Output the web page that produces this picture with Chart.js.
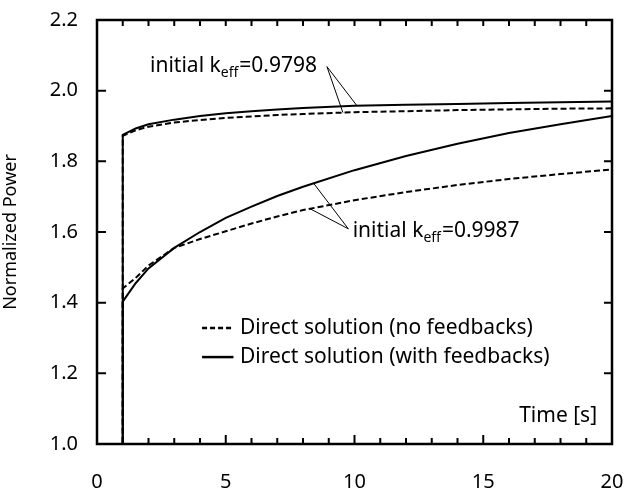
<!DOCTYPE html>
<html>
<head>
<meta charset="utf-8">
<script src="https://cdn.jsdelivr.net/npm/chart.js@4"></script>
<style>
html, body { margin: 0; padding: 0; background: #fff; }
#wrap { width: 624px; height: 491px; }
</style>
</head>
<body>
<div id="wrap"><canvas id="powerChart"></canvas></div>
<script>
// time axis [s] and normalized power
const timeS = [0, 1, 1, 1.5, 2, 3, 4, 5, 6, 7, 8, 10, 12, 14, 16, 18, 20];
const k9798Feedback   = [1.0, 1.0, 1.875, 1.893, 1.905, 1.918, 1.928, 1.936, 1.942, 1.947, 1.951, 1.957, 1.960, 1.962, 1.965, 1.967, 1.969];
const k9798NoFeedback = [1.0, 1.0, 1.872, 1.888, 1.898, 1.910, 1.917, 1.923, 1.927, 1.931, 1.934, 1.939, 1.942, 1.945, 1.947, 1.949, 1.950];
const k9987Feedback   = [1.0, 1.0, 1.403, 1.455, 1.497, 1.555, 1.600, 1.640, 1.672, 1.702, 1.728, 1.775, 1.815, 1.850, 1.880, 1.905, 1.928];
const k9987NoFeedback = [1.0, 1.0, 1.440, 1.470, 1.505, 1.555, 1.580, 1.602, 1.624, 1.644, 1.662, 1.690, 1.713, 1.733, 1.750, 1.764, 1.777];
const yTicks = [1.0, 1.2, 1.4, 1.6, 1.8, 2.0, 2.2];
const xTicks = [0, 5, 10, 15, 20];

const FONT = '"Noto Sans", sans-serif';

function toXY(ys) {
    return timeS.map((t, i) => ({ x: t, y: ys[i] }));
}

function lineSet(label, ys, dashed) {
    return {
        label: label,
        data: toXY(ys),
        borderColor: '#000',
        borderWidth: 2,
        borderDash: dashed ? [6, 3] : [],
        pointRadius: 0,
        tension: 0,
        fill: false
    };
}

function drawKeff(ctx, x, y, value) {
    ctx.fillStyle = '#000';
    ctx.textAlign = 'left';
    ctx.textBaseline = 'alphabetic';
    ctx.font = '21px ' + FONT;
    ctx.fillText('initial k', x, y);
    let w = ctx.measureText('initial k').width;
    ctx.font = '14px ' + FONT;
    ctx.fillText('eff', x + w, y + 5);
    w += ctx.measureText('eff').width + 1;
    ctx.font = '21px ' + FONT;
    ctx.fillText('=' + value, x + w, y);
}

const decorations = {
    id: 'decorations',
    afterDatasetsDraw(chart) {
        const ctx = chart.ctx;
        const xs = chart.scales.x, ys = chart.scales.y;
        const px = v => xs.getPixelForValue(v);
        const py = v => ys.getPixelForValue(v);
        ctx.save();

        // annotation leaders
        ctx.strokeStyle = '#000';
        ctx.lineWidth = 1;
        ctx.setLineDash([]);
        const leaders = [
            [[8.93, 2.068], [10.10, 1.957], [9.55, 1.938]],
            [[9.76, 1.609], [8.40, 1.739], [8.27, 1.666]]
        ];
        leaders.forEach(l => {
            l.slice(1).forEach(p => {
                ctx.beginPath();
                ctx.moveTo(px(l[0][0]), py(l[0][1]));
                ctx.lineTo(px(p[0]), py(p[1]));
                ctx.stroke();
            });
        });
        drawKeff(ctx, px(2.06), py(2.053), '0.9798');
        drawKeff(ctx, px(9.93), py(1.586), '0.9987');

        // legend
        const rows = [
            { y: 1.328, dash: [5, 3], text: 'Direct solution (no feedbacks)' },
            { y: 1.246, dash: [], text: 'Direct solution (with feedbacks)' }
        ];
        rows.forEach(r => {
            ctx.lineWidth = 2.5;
            ctx.setLineDash(r.dash);
            ctx.beginPath();
            ctx.moveTo(px(4.08), py(r.y));
            ctx.lineTo(px(5.30), py(r.y));
            ctx.stroke();
            ctx.setLineDash([]);
            ctx.font = '21px ' + FONT;
            ctx.textAlign = 'left';
            ctx.textBaseline = 'middle';
            ctx.fillText(r.text, px(5.55), py(r.y));
        });

        // axis name inside the plot
        ctx.textAlign = 'right';
        ctx.fillText('Time [s]', px(19.42), py(1.079));
        ctx.restore();
    },
    afterDraw(chart) {
        const ctx = chart.ctx;
        const a = chart.chartArea;
        const xs = chart.scales.x, ys = chart.scales.y;
        ctx.save();
        ctx.strokeStyle = '#000';
        ctx.setLineDash([]);
        ctx.lineWidth = 2;
        ctx.beginPath();
        for (let t = 1; t < 20; t++) {
            const x = xs.getPixelForValue(t);
            const major = t % 5 === 0;
            ctx.moveTo(x, a.bottom);
            ctx.lineTo(x, a.bottom - (major ? 9 : 6));
            ctx.moveTo(x, a.top);
            ctx.lineTo(x, a.top + 6);
        }
        yTicks.slice(1, -1).forEach(v => {
            const y = ys.getPixelForValue(v);
            ctx.moveTo(a.left, y);
            ctx.lineTo(a.left + 9, y);
            ctx.moveTo(a.right, y);
            ctx.lineTo(a.right - 8, y);
        });
        ctx.stroke();
        ctx.lineWidth = 2.5;
        ctx.strokeRect(a.left, a.top, a.right - a.left, a.bottom - a.top);
        ctx.restore();
    }
};

new Chart(document.getElementById('powerChart').getContext('2d'), {
    type: 'line',
    data: {
        datasets: [
            lineSet('0.9798 no feedbacks', k9798NoFeedback, true),
            lineSet('0.9798 with feedbacks', k9798Feedback, false),
            lineSet('0.9987 no feedbacks', k9987NoFeedback, true),
            lineSet('0.9987 with feedbacks', k9987Feedback, false)
        ]
    },
    options: {
        responsive: true,
        maintainAspectRatio: false,
        animation: false,
        layout: { padding: { top: 20, right: 12, left: 0, bottom: 0 } },
        plugins: {
            legend: { display: false },
            tooltip: { enabled: false }
        },
        scales: {
            x: {
                type: 'linear',
                min: 0,
                max: 20,
                afterBuildTicks: s => { s.ticks = xTicks.map(v => ({ value: v })); },
                afterFit: s => { s.height = 47; s.paddingLeft = 0; s.paddingRight = 0; },
                grid: { display: false, drawTicks: false },
                border: { display: false },
                ticks: {
                    color: '#000',
                    padding: 26,
                    maxRotation: 0,
                    font: { family: FONT, size: 20 }
                }
            },
            y: {
                min: 1.0,
                max: 2.2,
                afterBuildTicks: s => { s.ticks = yTicks.map(v => ({ value: v })); },
                afterFit: s => { s.width = 97; s.paddingTop = 0; s.paddingBottom = 0; },
                grid: { display: false, drawTicks: false },
                border: { display: false },
                title: {
                    display: true,
                    text: 'Normalized Power',
                    color: '#000',
                    font: { family: FONT, size: 18 },
                    padding: { top: 0, bottom: 6 }
                },
                ticks: {
                    color: '#000',
                    padding: 19,
                    font: { family: FONT, size: 20 },
                    callback: v => v.toFixed(1)
                }
            }
        }
    },
    plugins: [decorations]
});
</script>
</body>
</html>
